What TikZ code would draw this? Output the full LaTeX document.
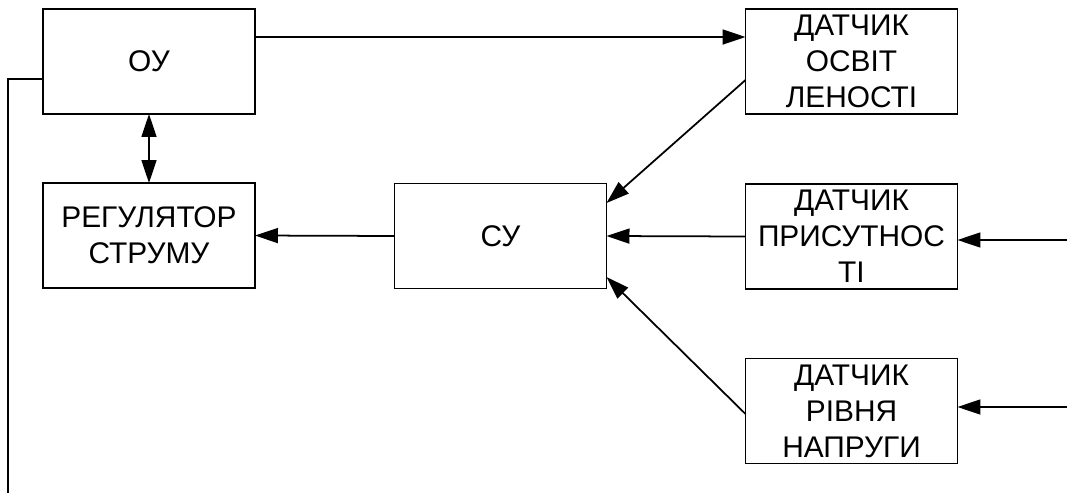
\documentclass[tikz,border=0pt]{standalone}
\usepackage{fontspec}
\setmainfont{Liberation Sans}
\usepackage{tikz}
\usetikzlibrary{arrows.meta}
\usetikzlibrary{calc}
\usetikzlibrary{positioning}

\begin{document}
\begin{tikzpicture}[
	x=0.02cm, y=-0.02cm,
	line width=1pt,
  	> = {Triangle[length=4.6mm,width=3mm]},
  	block/.style = {draw,rectangle,minimum width=4.24cm,minimum height=2.1cm,inner sep=0pt,outer sep=0pt,align=center,font=\fontsize{17}{20.5}\selectfont}
  	]

	\useasboundingbox (0,0) rectangle (1067,497);

	\node[block] (ou)  at (149,61.5)  {ОУ};
	\node[block] (reg) at (149,235.5) {РЕГУЛЯТОР\\СТРУМУ};
	\node[block] (su)  at (500.5,236) {СУ};

	\node[block] (dosv) at (851.5,61.5) {ДАТЧИК\\ОСВІТ\\ЛЕНОСТІ};
	\node[block] (dpr)  at (851.5,236.5) {ДАТЧИК\\ПРИСУТНОС\\ТІ};
	\node[block] (dnap) at (851.5,411) {ДАТЧИК\\РІВНЯ\\НАПРУГИ};

	\coordinate (in1) at (1067,240);
	\coordinate (in2) at (1067,407);
	\coordinate (fb) at (8,493);

	\draw[->] ([yshift=0.49cm]ou.east) -- ([yshift=0.49cm]ou.east -| dosv.west);
	\draw[<->] (ou.south) -- (reg.north);
	\draw[->] (su.west) -- (reg.east);

	\draw[->] ([yshift=-0.37cm]dosv.west) -- ([yshift=0.66cm]su.east);
	\draw[->] (dpr.west) -- (su.east);
	\draw[->] ([yshift=-0.06cm]dnap.west) -- ([yshift=-0.82cm]su.east);

	\draw[->] (in1) -- (in1 -| dpr.east);
	\draw[->] (in2) -- (in2 -| dnap.east);

	% feedback line down the left side
	\draw ([yshift=-0.35cm]ou.west) -| (fb);

\end{tikzpicture}
\end{document}
